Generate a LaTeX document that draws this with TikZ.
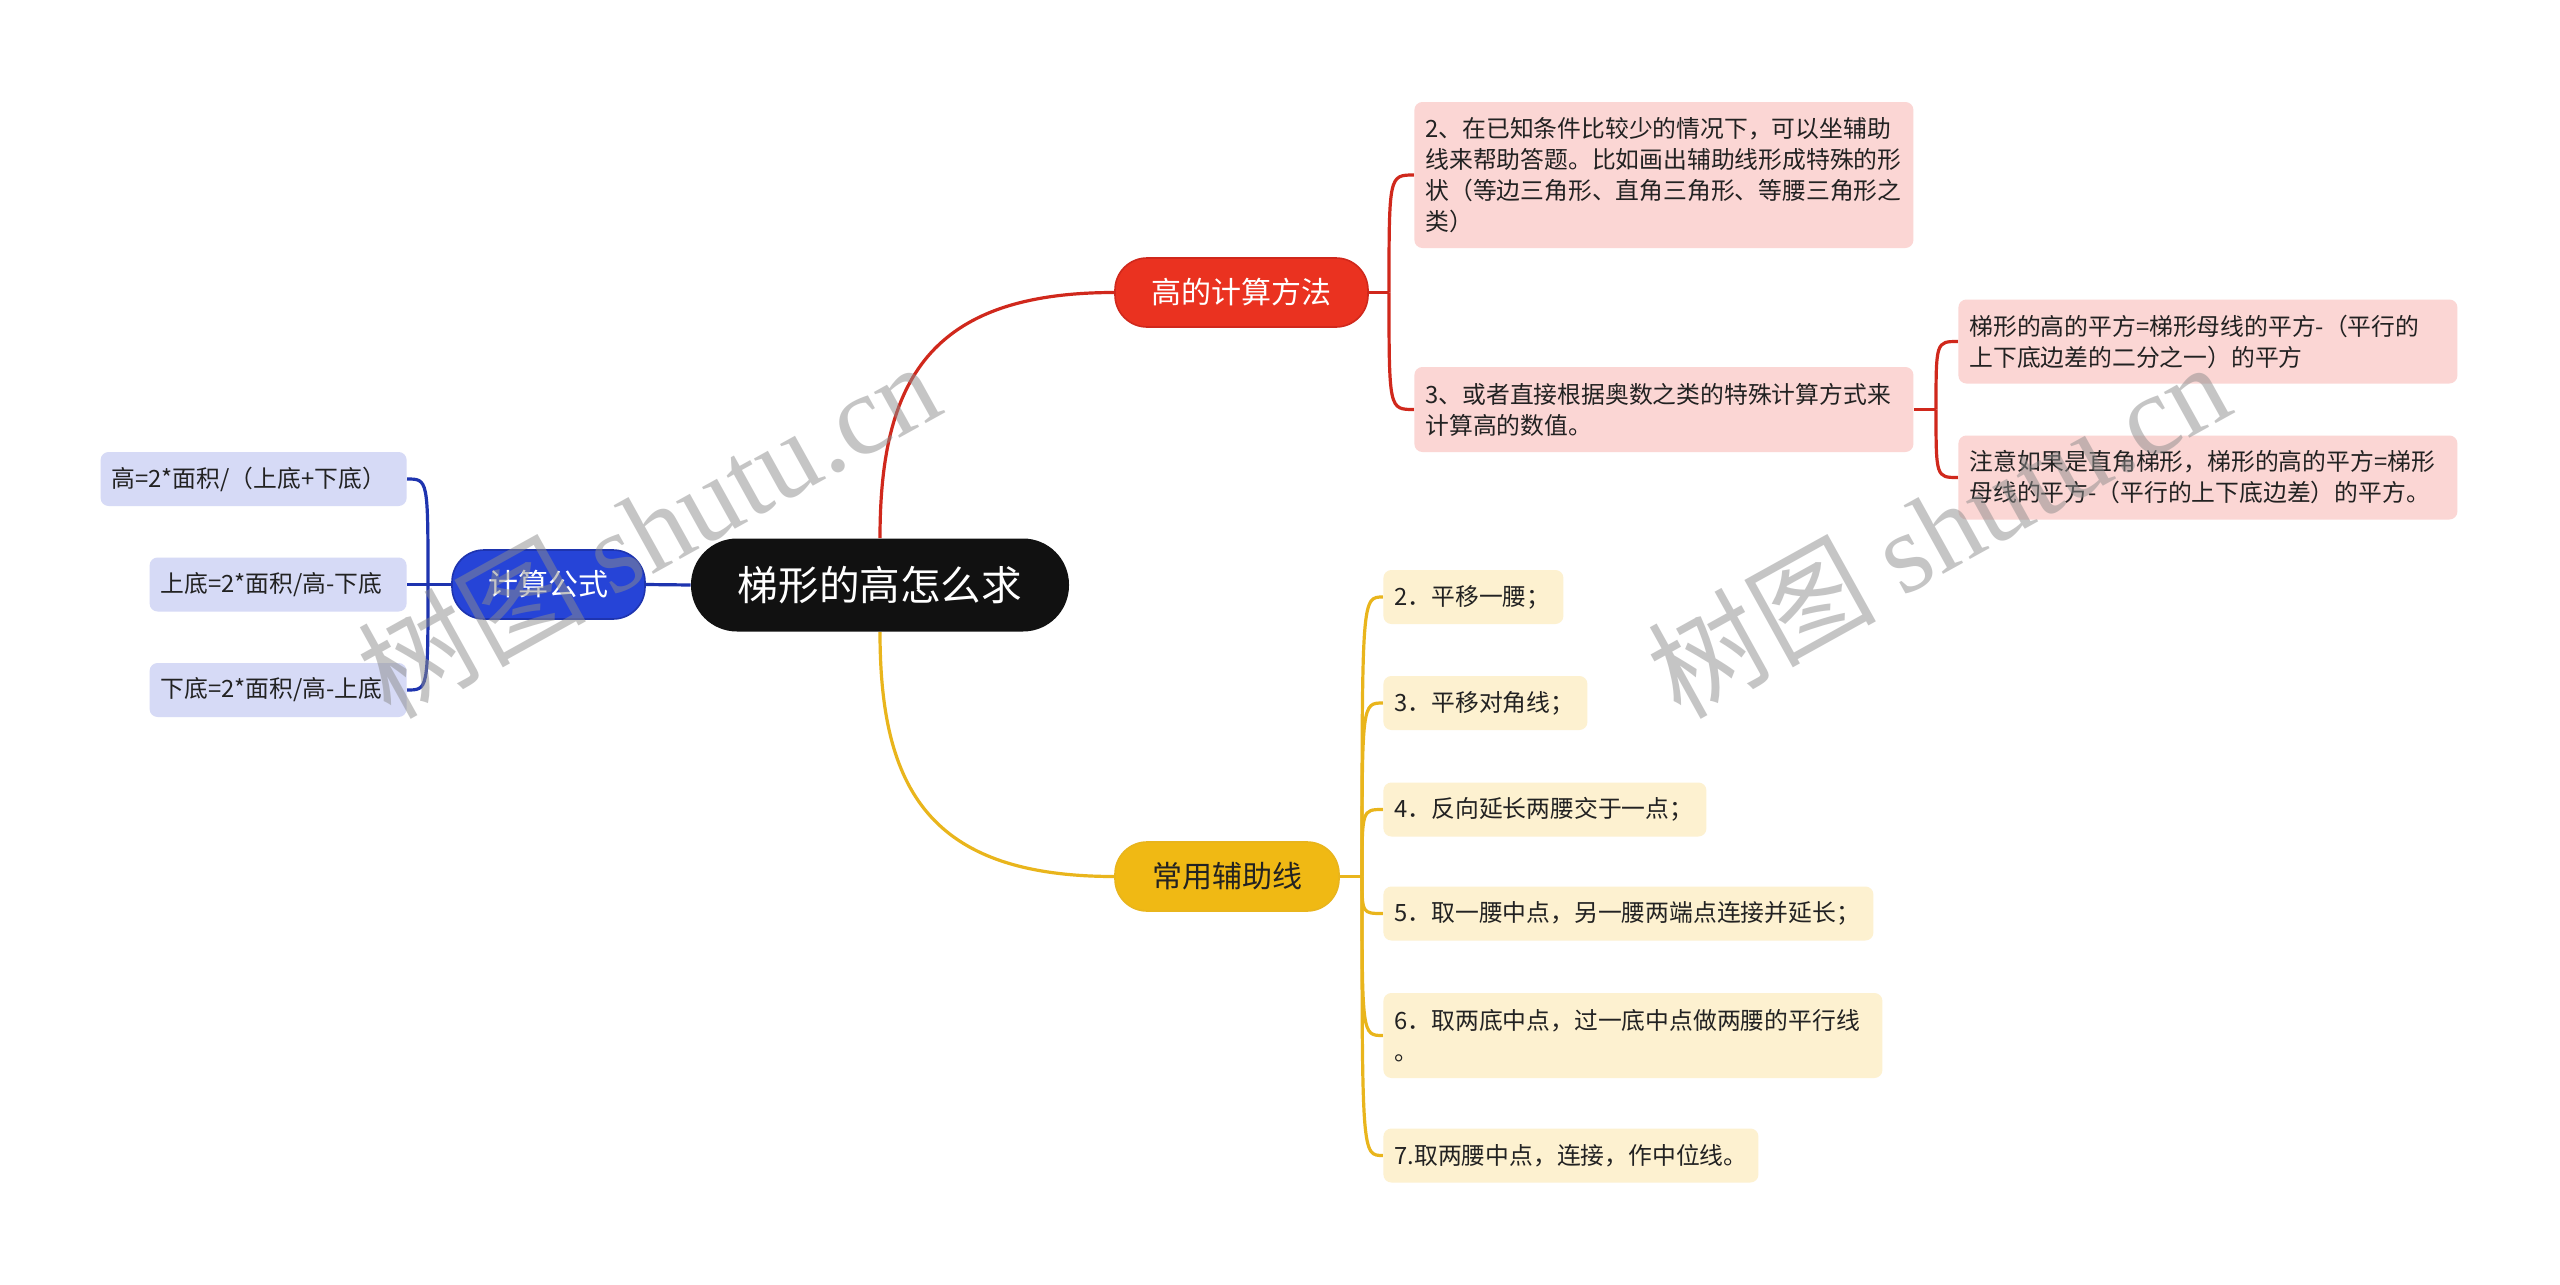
\documentclass[tikz,border=0pt]{standalone}
\usepackage{fontspec}
\setmainfont{Noto Sans CJK SC}
\newfontfamily\wmlatin{Liberation Serif}
\usetikzlibrary{backgrounds,calc}
\definecolor{rootfill}{RGB}{17,17,17}
\definecolor{redfill}{RGB}{234,50,32}
\definecolor{redline}{RGB}{208,40,28}
\definecolor{redleaf}{RGB}{251,214,212}
\definecolor{bluefill}{RGB}{38,68,215}
\definecolor{blueline}{RGB}{30,52,175}
\definecolor{blueleaf}{RGB}{214,218,246}
\definecolor{yelfill}{RGB}{240,185,20}
\definecolor{yelline}{RGB}{233,181,28}
\definecolor{yelleaf}{RGB}{253,241,208}
\definecolor{txt}{RGB}{34,34,34}
\begin{document}
\begin{tikzpicture}[x=0.5pt,y=-0.5pt,
  mainbox/.style={inner sep=0pt, minimum height=34.5pt, rounded corners=16pt, font=\fontsize{15}{18}\selectfont},
  leafbox/.style={inner xsep=5.5pt, inner ysep=0pt, align=left, rounded corners=4pt, text=txt, font=\fontsize{11.9}{15.5}\selectfont},
  rleaf/.style={leafbox, fill=redleaf},
  bleaf/.style={leafbox, fill=blueleaf},
  yleaf/.style={leafbox, fill=yelleaf},
  conn/.style={line width=1.6pt},
  brk/.style={to path={.. controls (\tikztostart |- \tikztotarget) and (\tikztostart |- \tikztotarget) .. (\tikztotarget)}},
  wm/.style={rotate=29, text=black!45, text opacity=0.5, font=\fontsize{57}{60}\selectfont}
]
\useasboundingbox (0,0) rectangle (2560,1285);

% central node
\node[mainbox, fill=rootfill, text=white, minimum width=189pt, minimum height=46.5pt, rounded corners=23pt, font=\fontsize{20.3}{24}\selectfont] (root) at (880,585) {梯形的高怎么求};

% main branches
\node[mainbox, fill=redfill, draw=redline, line width=0.8pt, text=white, minimum width=126.5pt] (rd) at (1241.5,292.5) {高的计算方法};
\node[mainbox, fill=yelfill, draw=yelline, line width=0.8pt, text=txt, minimum width=112pt] (yl) at (1227,876.5) {常用辅助线};
\node[mainbox, fill=bluefill, draw=blueline, line width=0.8pt, text=white, minimum width=96.5pt] (bl) at (548.5,584.5) {计算公式};

% red leaves
\node[rleaf, anchor=west, text width=238.5pt, minimum height=73pt] (ra) at (1414,175) {2、在已知条件比较少的情况下，可以坐辅助\\线来帮助答题。比如画出辅助线形成特殊的形\\状（等边三角形、直角三角形、等腰三角形之\\类）};
\node[rleaf, anchor=west, text width=238.5pt, minimum height=42.5pt] (rb) at (1414,409.5) {3、或者直接根据奥数之类的特殊计算方式来\\计算高的数值。};
\node[rleaf, anchor=west, text width=238.5pt, minimum height=42pt] (rc1) at (1958,341.5) {梯形的高的平方=梯形母线的平方-（平行的\\上下底边差的二分之一）的平方};
\node[rleaf, anchor=west, text width=238.5pt, minimum height=42pt] (rc2) at (1958,477.5) {注意如果是直角梯形，梯形的高的平方=梯形\\母线的平方-（平行的上下底边差）的平方。};

% yellow leaves
\node[yleaf, anchor=west, text width=79pt, minimum height=27pt] (y1) at (1383,597) {2．平移一腰；};
\node[yleaf, anchor=west, text width=91pt, minimum height=27pt] (y2) at (1383,703) {3．平移对角线；};
\node[yleaf, anchor=west, text width=150.5pt, minimum height=27pt] (y3) at (1383,809.5) {4．反向延长两腰交于一点；};
\node[yleaf, anchor=west, text width=234pt, minimum height=27pt] (y4) at (1383,913.5) {5．取一腰中点，另一腰两端点连接并延长；};
\node[yleaf, anchor=west, text width=238.5pt, minimum height=42.5pt] (y5) at (1383,1035.5) {6．取两底中点，过一底中点做两腰的平行线\\。};
\node[yleaf, anchor=west, text width=176.5pt, minimum height=27pt] (y6) at (1383,1155.5) {7.取两腰中点，连接，作中位线。};

% blue leaves
\node[bleaf, anchor=east, text width=142pt, minimum height=27pt] (b1) at (407,479) {高=2*面积/（上底+下底）};
\node[bleaf, anchor=east, text width=117.5pt, minimum height=27pt] (b2) at (407,584.5) {上底=2*面积/高-下底};
\node[bleaf, anchor=east, text width=117.5pt, minimum height=27pt] (b3) at (407,690) {下底=2*面积/高-上底};

% junctions
\coordinate (jb) at (428,584.5);
\coordinate (jr) at (1389,292.5);
\coordinate (jc) at (1936,409.5);
\coordinate (jy) at (1362,876.5);

\begin{pgfonlayer}{background}
\fill[white] (0,0) rectangle (2560,1285);
% root to branches
\draw[conn, redline] (root.north) .. controls ($(root.north)+(0,-157)$) and ($(rd.west)+(-185,0)$) .. (rd.west);
\draw[conn, yelline] (root.south) .. controls ($(root.south)+(0,157)$) and ($(yl.west)+(-185,0)$) .. (yl.west);
\draw[conn, blueline] (root.west) -- (bl.east);
% red brackets
\draw[conn, redline] (rd.east) -- (jr);
\draw[conn, redline, brk] (jr) to (ra.west);
\draw[conn, redline, brk] (jr) to (rb.west);
\draw[conn, redline] (rb.east) -- (jc);
\draw[conn, redline, brk] (jc) to (rc1.west);
\draw[conn, redline, brk] (jc) to (rc2.west);
% yellow bracket
\draw[conn, yelline] (yl.east) -- (jy);
\foreach \n in {y1,y2,y3,y4,y5,y6} {\draw[conn, yelline, brk] (jy) to (\n.west);}
% blue bracket
\draw[conn, blueline] (bl.west) -- (jb);
\draw[conn, blueline, brk] (jb) to (b1.east);
\draw[conn, blueline] (jb) -- (b2.east);
\draw[conn, blueline, brk] (jb) to (b3.east);
\end{pgfonlayer}

% watermarks
\node[wm] (wm1) at (648,528) {树图 {\wmlatin shutu.cn}};
\node[wm] (wm2) at (1938,528) {树图 {\wmlatin shutu.cn}};
\end{tikzpicture}
\end{document}
